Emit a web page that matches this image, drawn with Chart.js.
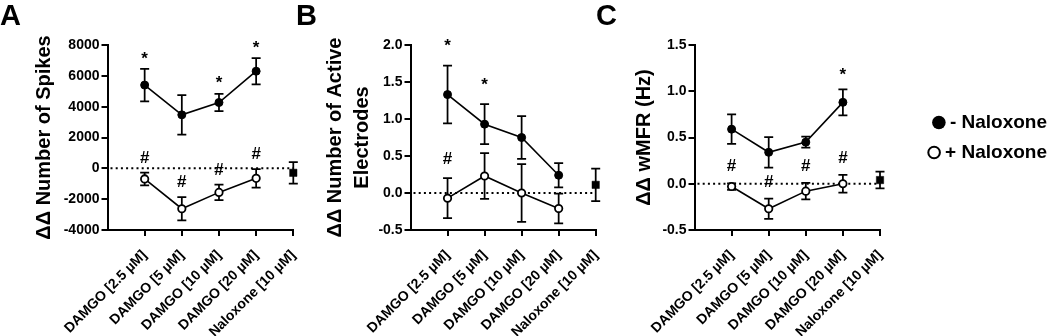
<!DOCTYPE html>
<html><head><meta charset="utf-8">
<script src="https://cdn.jsdelivr.net/npm/chart.js@4.4.0/dist/chart.umd.min.js"></script>
<style>
html,body{margin:0;padding:0;background:#fff;}
#wrap{position:relative;width:1050px;height:336px;background:#fff;}
canvas{position:absolute;left:0;top:0;}
</style></head><body>
<div id="wrap">
<canvas id="cA" width="1050" height="336"></canvas>
<canvas id="cB" width="1050" height="336"></canvas>
<canvas id="cC" width="1050" height="336"></canvas>
</div>
<script>
// ---------- DATA ----------
const categories = ['DAMGO [2.5 µM]', 'DAMGO [5 µM]', 'DAMGO [10 µM]', 'DAMGO [20 µM]', 'Naloxone [10 µM]'];
const seriesLabels = ['- Naloxone', '+ Naloxone', 'Naloxone'];

// Panel A: ΔΔ Number of Spikes
const spikesMinusNal = [5400, 3470, 4270, 6300];
const spikesMinusNalSem = [1050, 1280, 565, 850];
const spikesPlusNal = [-690, -2620, -1560, -650];
const spikesPlusNalSem = [410, 760, 500, 600];
const spikesNalOnly = [-290];
const spikesNalOnlySem = [700];
const spikesStars = [true, false, true, true];
const spikesHashes = [true, true, true, true];
const spikesTicks = [-4000, -2000, 0, 2000, 4000, 6000, 8000];

// Panel B: ΔΔ Number of Active Electrodes
const electrodesMinusNal = [1.33, 0.93, 0.75, 0.24];
const electrodesMinusNalSem = [0.39, 0.27, 0.29, 0.165];
const electrodesPlusNal = [-0.07, 0.23, 0.0, -0.21];
const electrodesPlusNalSem = [0.27, 0.31, 0.39, 0.20];
const electrodesNalOnly = [0.11];
const electrodesNalOnlySem = [0.22];
const electrodesStars = [true, true, false, false];
const electrodesHashes = [true, false, false, false];
const electrodesTicks = [-0.5, 0.0, 0.5, 1.0, 1.5, 2.0];

// Panel C: ΔΔ wMFR (Hz)
const wmfrMinusNal = [0.59, 0.34, 0.45, 0.88];
const wmfrMinusNalSem = [0.16, 0.165, 0.06, 0.14];
const wmfrPlusNal = [-0.03, -0.27, -0.08, 0.0];
const wmfrPlusNalSem = [0.035, 0.11, 0.09, 0.095];
const wmfrNalOnly = [0.04];
const wmfrNalOnlySem = [0.09];
const wmfrStars = [false, false, false, true];
const wmfrHashes = [true, true, true, true];
const wmfrTicks = [-0.5, 0.0, 0.5, 1.0, 1.5];

// ---------- DRAWING ----------
const FONT = "'Liberation Sans', Arial, Helvetica, sans-serif";
const xs = categories.map((c, i) => i + 1);

const errorBarPlugin = {
  id: 'errorBars',
  beforeDatasetsDraw(chart) {
    const {ctx, scales: {x, y}} = chart;
    ctx.save();
    ctx.strokeStyle = '#000';
    ctx.lineWidth = 1.75;
    chart.data.datasets.forEach(ds => {
      if (!ds.errors) return;
      ds.data.forEach((p, i) => {
        const e = ds.errors[i];
        const px = x.getPixelForValue(p.x);
        const top = y.getPixelForValue(p.y + e);
        const bot = y.getPixelForValue(p.y - e);
        const cap = 4.5;
        ctx.beginPath();
        ctx.moveTo(px, top); ctx.lineTo(px, bot);
        ctx.moveTo(px - cap, top); ctx.lineTo(px + cap, top);
        ctx.moveTo(px - cap, bot); ctx.lineTo(px + cap, bot);
        ctx.stroke();
      });
    });
    ctx.restore();
  }
};

const zeroLinePlugin = {
  id: 'zeroLine',
  beforeDatasetsDraw(chart) {
    const {ctx, chartArea, scales: {y}} = chart;
    const py = y.getPixelForValue(0);
    ctx.save();
    ctx.strokeStyle = '#000';
    ctx.lineWidth = 2;
    ctx.setLineDash([2, 3.2]);
    ctx.beginPath();
    ctx.moveTo(chartArea.left + 3, py);
    ctx.lineTo(chartArea.right, py);
    ctx.stroke();
    ctx.restore();
  }
};

const marksPlugin = {
  id: 'sigMarks',
  afterDatasetsDraw(chart) {
    const {ctx, scales: {x, y}} = chart;
    ctx.save();
    ctx.fillStyle = '#000';
    ctx.textAlign = 'center';
    ctx.textBaseline = 'alphabetic';
    chart.data.datasets.forEach(ds => {
      if (!ds.marks) return;
      ds.data.forEach((p, i) => {
        if (!ds.marks[i]) return;
        const px = x.getPixelForValue(p.x);
        const top = y.getPixelForValue(p.y + ds.errors[i]);
        const fs = 17;
        ctx.font = 'bold ' + fs + 'px ' + FONT;
        const centerY = top - ds.markOffset;
        const shift = ds.markChar === '*' ? 0.57 : 0.35;
        ctx.fillText(ds.markChar, px, centerY + shift * fs);
      });
    });
    ctx.restore();
  }
};

function letterPlugin(letter, lx) {
  return {
    id: 'panelLetter',
    afterDraw(chart) {
      const {ctx} = chart;
      ctx.save();
      ctx.fillStyle = '#000';
      ctx.font = 'bold 29px ' + FONT;
      ctx.textAlign = 'left';
      ctx.textBaseline = 'alphabetic';
      ctx.fillText(letter, lx, 25);
      ctx.restore();
    }
  };
}

const legendPlugin = {
  id: 'sideLegend',
  afterDraw(chart) {
    const {ctx, chartArea} = chart;
    const cy = (chartArea.top + chartArea.bottom) / 2;
    const items = [
      {label: chart.data.datasets[0].label, filled: true, y: cy - 15},
      {label: chart.data.datasets[1].label, filled: false, y: cy + 15}
    ];
    ctx.save();
    ctx.font = 'bold 19px ' + FONT;
    ctx.textAlign = 'right';
    ctx.textBaseline = 'middle';
    ctx.fillStyle = '#000';
    ctx.strokeStyle = '#000';
    items.forEach(it => {
      const right = 1047;
      const w = ctx.measureText(it.label).width;
      ctx.fillText(it.label, right, it.y);
      const cx = right - w - 11;
      ctx.beginPath();
      ctx.arc(cx, it.y, it.filled ? 6.8 : 5.8, 0, Math.PI * 2);
      if (it.filled) { ctx.fill(); } else { ctx.lineWidth = 2; ctx.fillStyle = '#fff'; ctx.fill(); ctx.stroke(); ctx.fillStyle = '#000'; }
    });
    ctx.restore();
  }
};

function makePanel(id, cfg) {
  const minusData = cfg.minus.map((v, i) => ({x: xs[i], y: v}));
  const plusData = cfg.plus.map((v, i) => ({x: xs[i], y: v}));
  const nalData = cfg.nal.map(v => ({x: xs[4], y: v}));
  const TS = 20;
  const tlh = cfg.titleLineHeight || 1.2;
  const plugins = [errorBarPlugin, zeroLinePlugin, marksPlugin, letterPlugin(cfg.letter, cfg.letterX)];
  if (cfg.legend) plugins.push(legendPlugin);
  return new Chart(document.getElementById(id), {
    type: 'line',
    data: {
      datasets: [
        {label: seriesLabels[0], data: minusData, errors: cfg.minusSem, marks: cfg.stars, markChar: '*', markOffset: cfg.starOffset,
         borderColor: '#000', backgroundColor: '#000', borderWidth: 1.6, pointRadius: 4, pointBorderWidth: 1,
         pointBackgroundColor: '#000', pointBorderColor: '#000', tension: 0, clip: false},
        {label: seriesLabels[1], data: plusData, errors: cfg.plusSem, marks: cfg.hashes, markChar: '#', markOffset: cfg.hashOffset,
         borderColor: '#000', backgroundColor: '#fff', borderWidth: 1.6, pointRadius: 3.7, pointBorderWidth: 1.8,
         pointBackgroundColor: '#fff', pointBorderColor: '#000', tension: 0, clip: false},
        {label: seriesLabels[2], data: nalData, errors: cfg.nalSem, showLine: false, pointStyle: 'rect', pointRadius: 5.2,
         pointBorderWidth: 0.5, pointBackgroundColor: '#000', pointBorderColor: '#000', borderColor: '#000', backgroundColor: '#000', clip: false}
      ]
    },
    options: {
      responsive: false, animation: false, devicePixelRatio: 1,
      layout: {padding: {left: cfg.L, right: 1050 - cfg.right, top: 45, bottom: 0}},
      plugins: {legend: {display: false}, tooltip: {enabled: false}},
      scales: {
        x: {
          type: 'linear', min: 0, max: 5,
          afterBuildTicks: s => { s.ticks = xs.map(v => ({value: v})); },
          afterFit: s => { s.height = 106; },
          ticks: {autoSkip: false, minRotation: 45, maxRotation: 45, color: '#000', padding: 11,
                  font: {family: FONT, size: 14, weight: 'bold'}, callback: v => categories[v - 1]},
          grid: {display: true, drawOnChartArea: false, drawTicks: true, tickLength: 6, color: '#000', lineWidth: 2},
          border: {display: true, color: '#000', width: 2}
        },
        y: {
          type: 'linear', min: cfg.ticks[0], max: cfg.ticks[cfg.ticks.length - 1],
          afterBuildTicks: s => { s.ticks = cfg.ticks.map(v => ({value: v})); },
          afterFit: s => { s.width = cfg.axisX - cfg.L; },
          ticks: {color: '#000', padding: 2, font: {family: FONT, size: 14, weight: 'bold'}, callback: v => cfg.fmt(v)},
          grid: {display: true, drawOnChartArea: false, drawTicks: true, tickLength: 6, color: '#000', lineWidth: 2},
          border: {display: true, color: '#000', width: 2},
          title: {display: true, text: cfg.title, color: '#000',
                  font: {family: FONT, size: TS, weight: 'bold', lineHeight: tlh},
                  padding: {top: cfg.titleX - cfg.L - tlh * TS / 2, bottom: 0}}
        }
      }
    },
    plugins
  });
}

makePanel('cA', {
  minus: spikesMinusNal, minusSem: spikesMinusNalSem, plus: spikesPlusNal, plusSem: spikesPlusNalSem,
  nal: spikesNalOnly, nalSem: spikesNalOnlySem, stars: spikesStars, hashes: spikesHashes, ticks: spikesTicks,
  fmt: v => String(v), title: 'ΔΔ Number of Spikes', titleX: 44, L: 10, axisX: 107.5, right: 293.3,
  starOffset: 15, hashOffset: 16, letter: 'A', letterX: 0
});
makePanel('cB', {
  minus: electrodesMinusNal, minusSem: electrodesMinusNalSem, plus: electrodesPlusNal, plusSem: electrodesPlusNalSem,
  nal: electrodesNalOnly, nalSem: electrodesNalOnlySem, stars: electrodesStars, hashes: electrodesHashes, ticks: electrodesTicks,
  fmt: v => v.toFixed(1), title: ['ΔΔ Number of Active', 'Electrodes'], titleLineHeight: 1.35, titleX: 335, L: 305, axisX: 410.5, right: 595.7,
  starOffset: 24, hashOffset: 20, letter: 'B', letterX: 296
});
makePanel('cC', {
  minus: wmfrMinusNal, minusSem: wmfrMinusNalSem, plus: wmfrPlusNal, plusSem: wmfrPlusNalSem,
  nal: wmfrNalOnly, nalSem: wmfrNalOnlySem, stars: wmfrStars, hashes: wmfrHashes, ticks: wmfrTicks,
  fmt: v => v.toFixed(1), title: 'ΔΔ wMFR (Hz)', titleX: 644, L: 610, axisX: 694.5, right: 880,
  starOffset: 19, hashOffset: 18, letter: 'C', letterX: 596, legend: true
});
</script>
</body></html>
